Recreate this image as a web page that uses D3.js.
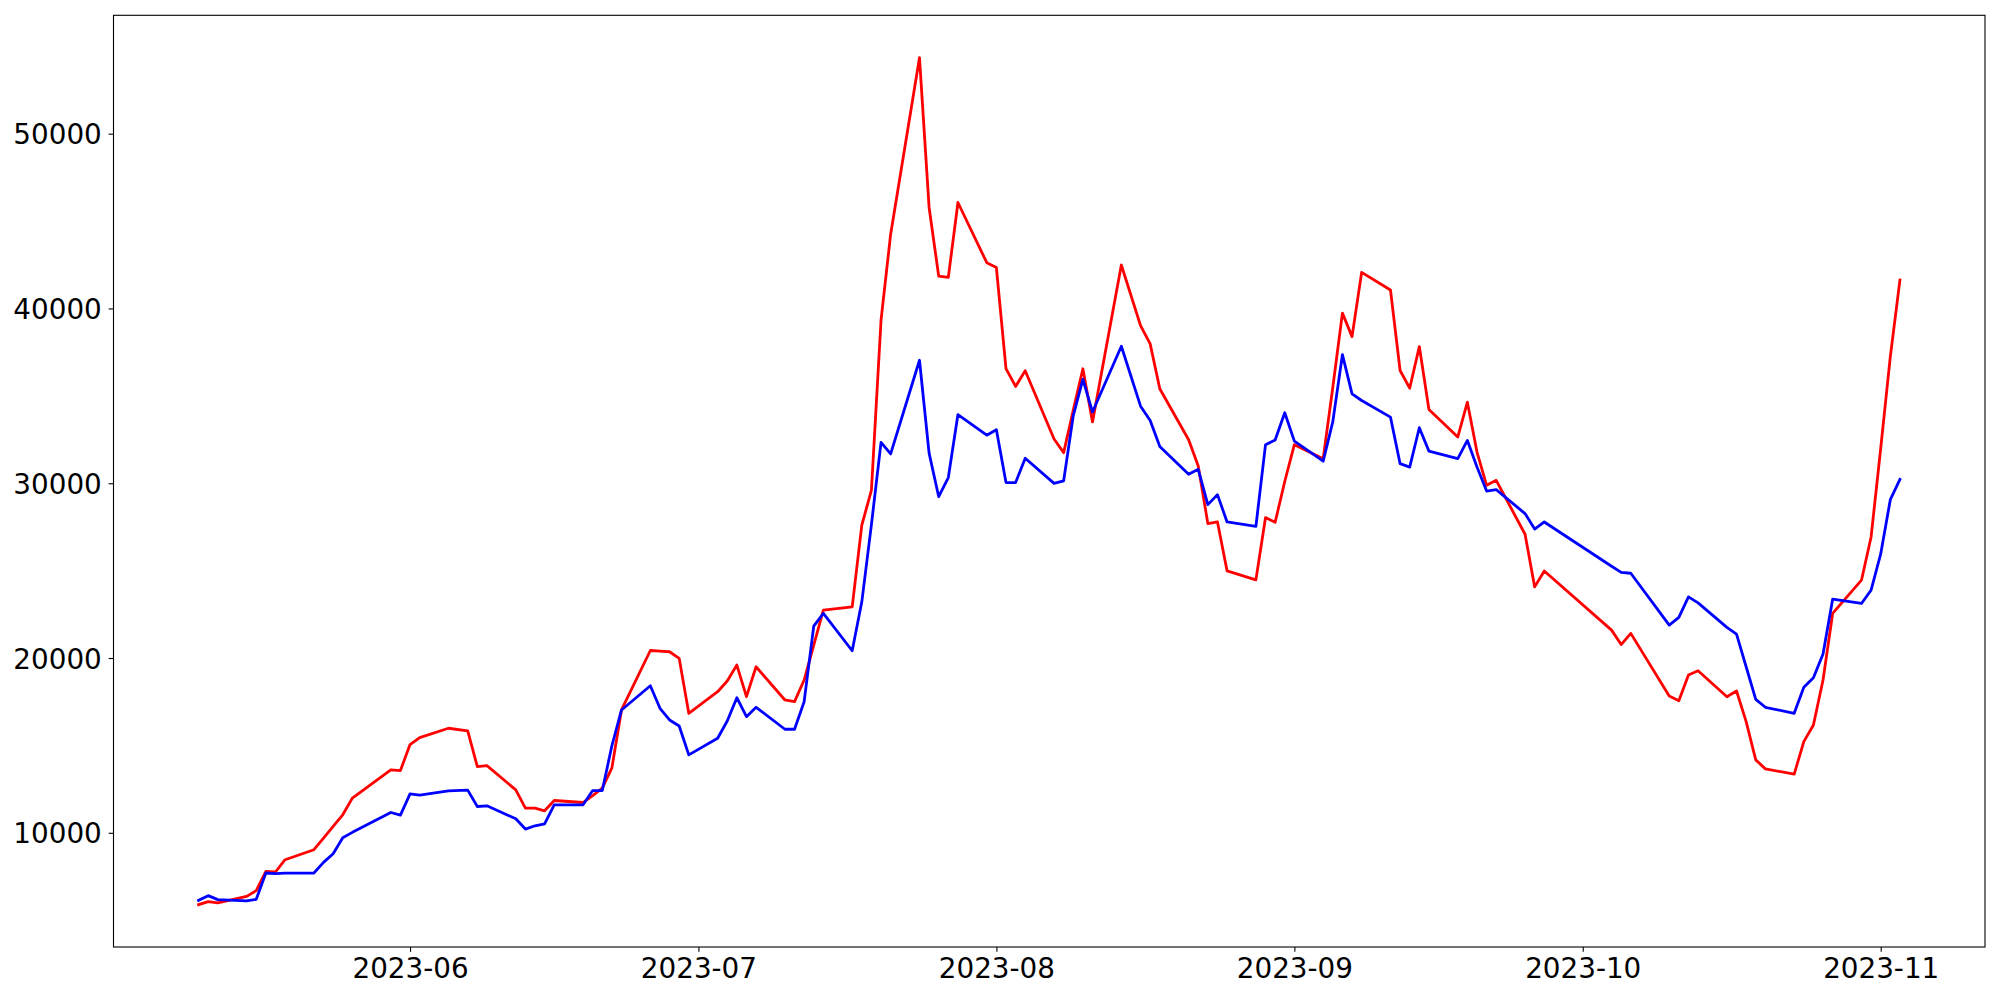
<!DOCTYPE html>
<html>
<head>
<meta charset="utf-8">
<script src="https://cdn.jsdelivr.net/npm/d3@7"></script>
<style>
  html, body { margin: 0; padding: 0; background: #fff; }
  svg { display: block; }
</style>
</head>
<body>
<svg id="chart" width="2000" height="1000"></svg>
<script>
// Trading dates (KRX calendar)
const dates = [
  "2023-05-10","2023-05-11","2023-05-12","2023-05-15","2023-05-16","2023-05-17","2023-05-18","2023-05-19",
  "2023-05-22","2023-05-23","2023-05-24","2023-05-25","2023-05-26","2023-05-30","2023-05-31",
  "2023-06-01","2023-06-02","2023-06-05","2023-06-07","2023-06-08","2023-06-09","2023-06-12","2023-06-13",
  "2023-06-14","2023-06-15","2023-06-16","2023-06-19","2023-06-20","2023-06-21","2023-06-22","2023-06-23",
  "2023-06-26","2023-06-27","2023-06-28","2023-06-29","2023-06-30",
  "2023-07-03","2023-07-04","2023-07-05","2023-07-06","2023-07-07","2023-07-10","2023-07-11","2023-07-12",
  "2023-07-13","2023-07-14","2023-07-17","2023-07-18","2023-07-19","2023-07-20","2023-07-21","2023-07-24",
  "2023-07-25","2023-07-26","2023-07-27","2023-07-28","2023-07-31",
  "2023-08-01","2023-08-02","2023-08-03","2023-08-04","2023-08-07","2023-08-08","2023-08-09","2023-08-10",
  "2023-08-11","2023-08-14","2023-08-16","2023-08-17","2023-08-18","2023-08-21","2023-08-22","2023-08-23",
  "2023-08-24","2023-08-25","2023-08-28","2023-08-29","2023-08-30","2023-08-31",
  "2023-09-01","2023-09-04","2023-09-05","2023-09-06","2023-09-07","2023-09-08","2023-09-11","2023-09-12",
  "2023-09-13","2023-09-14","2023-09-15","2023-09-18","2023-09-19","2023-09-20","2023-09-21","2023-09-22",
  "2023-09-25","2023-09-26","2023-09-27",
  "2023-10-04","2023-10-05","2023-10-06","2023-10-10","2023-10-11","2023-10-12","2023-10-13","2023-10-16",
  "2023-10-17","2023-10-18","2023-10-19","2023-10-20","2023-10-23","2023-10-24","2023-10-25","2023-10-26",
  "2023-10-27","2023-10-30","2023-10-31",
  "2023-11-01","2023-11-02","2023-11-03"
];

const redValues = [
  5889, 6061, 5986, 6363, 6689, 7791, 7757, 8460,
  9031, 9699, 10362, 11030, 11983, 13600, 13561,
  15046, 15446, 15982, 15828, 13789, 13846, 12458, 11412,
  11412, 11258, 11847, 11733, 12132, 12555, 13714, 17027,
  20430, 20400, 20358, 19980, 16839,
  18073, 18684, 19598, 17787, 19501, 17600, 17502, 18741,
  20740, 22740, 22928, 27600, 29600, 39328, 44250, 54350,
  45779, 41846, 41778, 46063, 42620,
  42340, 36560, 35540, 36440, 32530, 31750, 34180, 36550,
  33510, 42486, 39018, 37972, 35403, 32490, 30982, 27692,
  27783, 24985, 24473, 28035, 27766, 30100,
  32205, 31405, 35494, 39732, 38390, 42063, 41058, 36449,
  35438, 37820, 34221, 32639, 34638, 31782, 29880, 30165,
  27080, 24070, 24976,
  21597, 20770, 21409, 17827, 17559, 19027, 19272, 17787,
  18113, 16359, 14172, 13657, 13355, 15217, 16171, 18741,
  22551, 24453, 26926,
  32000, 37250, 41630
];

const blueValues = [
  6135, 6403, 6175, 6100, 6192, 7700, 7660, 7690,
  7700, 8306, 8802, 9716, 10025, 11161, 11012,
  12229, 12155, 12401, 12441, 11504, 11544, 10802, 10213,
  10402, 10516, 11601, 11601, 12418, 12418, 14980, 17027,
  18416, 17124, 16456, 16113, 14457,
  15411, 16399, 17730, 16645, 17182, 15925, 15925, 17502,
  21825, 22551, 20415, 23214, 27634, 32336, 31679, 37037,
  31725, 29229, 30326, 33930, 32750,
  33060, 30040, 30040, 31430, 29990, 30140, 33870, 35940,
  34075, 37836, 34410, 33593, 32107, 30508, 30794, 28777,
  29348, 27783, 27538, 32205, 32470, 34032,
  32410, 31260, 33525, 37355, 35117, 34735, 33782, 31119,
  30925, 33176, 31839, 31405, 32450, 30925, 29554, 29634,
  28263, 27380, 27783,
  25250, 24900, 24850, 21882, 22322, 23500, 23157, 21751,
  21368, 19501, 17638, 17182, 16839, 18324, 18873, 20226,
  23368, 23122, 23882,
  25958, 29062, 30222
];

const xTickLabels = ["2023-06","2023-07","2023-08","2023-09","2023-10","2023-11"];
const yTickValues = [10000, 20000, 30000, 40000, 50000];

(function draw() {
  const parse = d3.utcParse("%Y-%m-%d");
  const parseMonth = d3.utcParse("%Y-%m");
  const dateObjs = dates.map(parse);
  const redData = dateObjs.map((d, i) => ({ date: d, value: redValues[i] }));
  const blueData = dateObjs.map((d, i) => ({ date: d, value: blueValues[i] }));

  // Layout
  const axLeft = 113.5, axRight = 1985, axTop = 15.3, axBottom = 947;
  const svg = d3.select("#chart");

  // matplotlib-style 5% margins
  const [xmin, xmax] = d3.extent(dateObjs);
  const xr = xmax - xmin;
  const x = d3.scaleUtc()
    .domain([new Date(+xmin - 0.05 * xr), new Date(+xmax + 0.05 * xr)])
    .range([axLeft, axRight]);

  const allVals = redValues.concat(blueValues);
  const ymin = d3.min(allVals), ymax = d3.max(allVals);
  const yr = ymax - ymin;
  const y = d3.scaleLinear()
    .domain([ymin - 0.05 * yr, ymax + 0.05 * yr])
    .range([axBottom, axTop]);

  const line = d3.line().x(d => x(d.date)).y(d => y(d.value));

  const plot = svg.append("g");
  plot.append("path").datum(redData)
    .attr("d", line).attr("fill", "none").attr("stroke", "#ff0000")
    .attr("stroke-width", 2.8).attr("stroke-linejoin", "round").attr("stroke-linecap", "square");
  plot.append("path").datum(blueData)
    .attr("d", line).attr("fill", "none").attr("stroke", "#0000ff")
    .attr("stroke-width", 2.8).attr("stroke-linejoin", "round").attr("stroke-linecap", "square");

  // Axes
  const fontFamily = "'DejaVu Sans', sans-serif";
  const fontSize = 27.8;
  const tickLen = 4.86, pad = 4.86;

  const xAxis = d3.axisBottom(x)
    .tickValues(xTickLabels.map(parseMonth))
    .tickFormat(d3.utcFormat("%Y-%m"))
    .tickSize(tickLen).tickPadding(pad);
  const gx = svg.append("g").attr("transform", `translate(0,${axBottom})`).call(xAxis);
  gx.select(".domain").remove();
  gx.selectAll(".tick line").attr("stroke", "#000").attr("stroke-width", 1.1);
  gx.selectAll(".tick text")
    .attr("font-family", fontFamily).attr("font-size", fontSize).attr("fill", "#000")
    .attr("dy", null).attr("y", 31.3);

  const yAxis = d3.axisLeft(y)
    .tickValues(yTickValues)
    .tickFormat(d3.format("d"))
    .tickSize(tickLen).tickPadding(pad);
  const gy = svg.append("g").attr("transform", `translate(${axLeft},0)`).call(yAxis);
  gy.select(".domain").remove();
  gy.selectAll(".tick line").attr("stroke", "#000").attr("stroke-width", 1.1);
  gy.selectAll(".tick text")
    .attr("font-family", fontFamily).attr("font-size", fontSize).attr("fill", "#000")
    .attr("dy", null).attr("x", -(tickLen + pad + 2)).attr("y", 10);

  // Frame
  svg.append("rect")
    .attr("x", axLeft).attr("y", axTop)
    .attr("width", axRight - axLeft).attr("height", axBottom - axTop)
    .attr("fill", "none").attr("stroke", "#000").attr("stroke-width", 1.1);
})();
</script>
</body>
</html>
